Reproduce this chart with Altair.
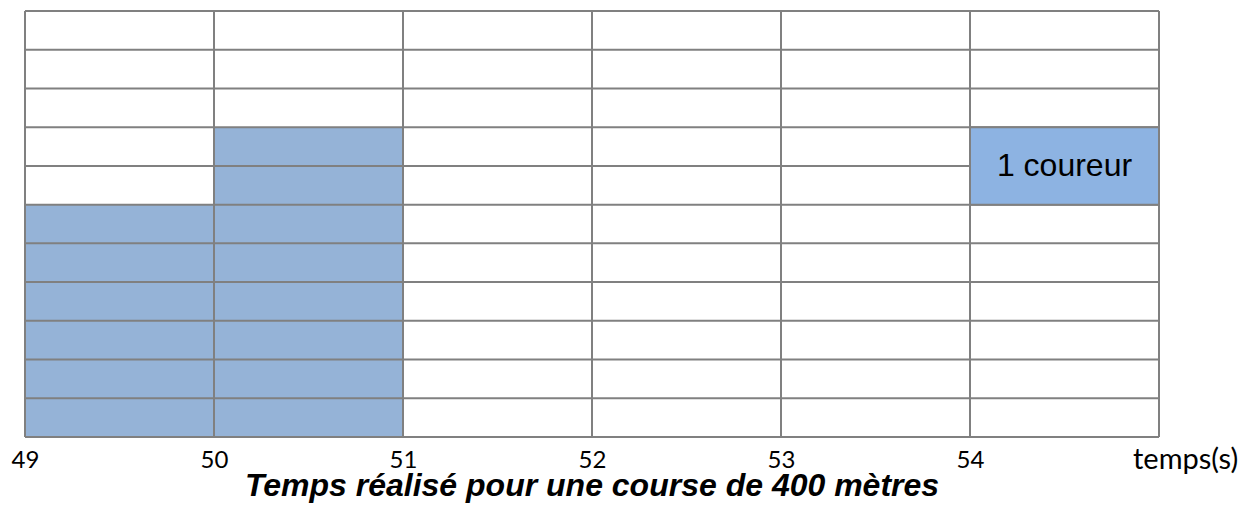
import altair as alt
import pandas as pd

# Data
bin_start = [49, 50, 51, 52, 53, 54]
bin_end = [50, 51, 52, 53, 54, 55]
counts = [6, 8, 0, 0, 0, 0]
tick_values = [49, 50, 51, 52, 53, 54]
grid_x = [49, 50, 51, 52, 53, 54, 55]
grid_y = [0, 1, 2, 3, 4, 5, 6, 7, 8, 9, 10, 11]
legend_cell = {"x": [54], "x2": [55], "y": [6], "y2": [8], "label": ["1 coureur"]}
x_axis_unit = "temps(s)"
title_text = "Temps réalisé pour une course de 400 mètres"

W, H = 1134, 426
GRID = "#808080"

bars_df = pd.DataFrame({"start": bin_start, "end": bin_end, "count": counts})
bars_df = bars_df[bars_df["count"] > 0]
vx_df = pd.DataFrame({"x": grid_x})
hy_df = pd.DataFrame({"y": grid_y})
leg_df = pd.DataFrame(legend_cell)
unit_df = pd.DataFrame({"x": [grid_x[-1]], "label": [x_axis_unit]})

xscale = alt.Scale(domain=[49, 55], nice=False, zero=False)
yscale = alt.Scale(domain=[0, 11], nice=False, zero=True)

bars = alt.Chart(bars_df).mark_rect(color="#95B3D7").encode(
    x=alt.X("start:Q", scale=xscale,
            axis=alt.Axis(values=tick_values, format="d", grid=False, domain=False,
                          ticks=False, title=None, labelFont="Lato", labelFontSize=24,
                          labelColor="#000000", labelPadding=11, labelFlush=False,
                          labelOverlap=False)),
    x2="end:Q",
    y=alt.Y("count:Q", scale=yscale, axis=None),
    y2=alt.datum(0),
)

vlines = alt.Chart(vx_df).mark_rule(color=GRID, strokeWidth=2).encode(
    x=alt.X("x:Q", scale=xscale),
    y=alt.value(0),
    y2=alt.value(H),
)

hlines = alt.Chart(hy_df).mark_rule(color=GRID, strokeWidth=2).encode(
    y=alt.Y("y:Q", scale=yscale),
    x=alt.value(0),
    x2=alt.value(W),
)

legend_rect = alt.Chart(leg_df).mark_rect(color="#8DB3E2", stroke=GRID, strokeWidth=2).encode(
    x=alt.X("x:Q", scale=xscale),
    x2="x2:Q",
    y=alt.Y("y:Q", scale=yscale),
    y2="y2:Q",
)

legend_text = alt.Chart(leg_df).mark_text(
    font="Liberation Sans", fontSize=32, color="#000000", baseline="middle", align="center"
).encode(
    x=alt.X("xm:Q", scale=xscale),
    y=alt.Y("ym:Q", scale=yscale),
    text="label:N",
).transform_calculate(xm="(datum.x + datum.x2) / 2", ym="(datum.y + datum.y2) / 2")

unit_text = alt.Chart(unit_df).mark_text(
    font="Lato", fontSize=29, color="#000000", align="left", baseline="alphabetic", dx=-26
).encode(
    x=alt.X("x:Q", scale=xscale),
    y=alt.value(H + 32),
    text="label:N",
)

chart = alt.layer(bars, vlines, hlines, legend_rect, legend_text, unit_text).properties(
    width=W,
    height=H,
    title=alt.TitleParams(title_text, orient="bottom", font="Liberation Sans",
                          fontSize=32, fontWeight="bold", fontStyle="italic",
                          color="#000000", offset=-4, anchor="middle"),
    autosize=alt.AutoSizeParams(type="none"),
    padding={"left": 17, "top": 3, "right": 84, "bottom": 66},
).configure_view(stroke=None)

chart.save("out.html", embed_options={"renderer": "svg", "actions": False})
